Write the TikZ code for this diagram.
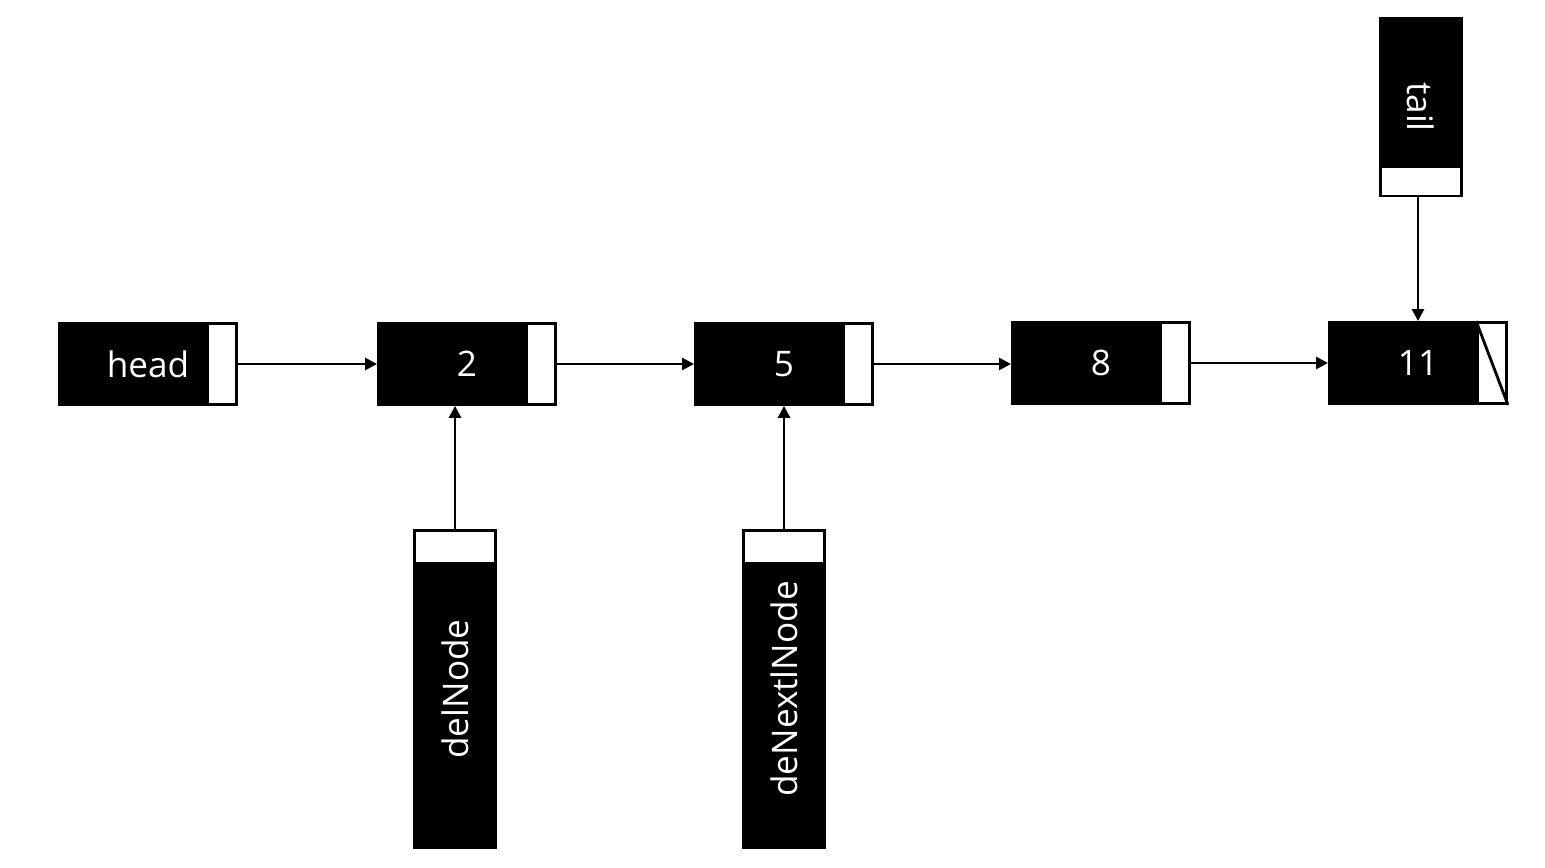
\documentclass[tikz,border=0pt]{standalone}
\usepackage{fontspec}
\setmainfont{Open Sans}
\usetikzlibrary{arrows.meta,positioning,calc}

\begin{document}
\begin{tikzpicture}[x=0.01cm,y=-0.01cm,
  cell/.style={draw=black,fill=black,text=white,line width=0.8pt,
    minimum width=1.77cm,minimum height=0.81cm,inner sep=0pt,
    font=\fontsize{10}{12}\selectfont},
  ptr/.style={draw=black,fill=white,line width=0.8pt,
    minimum width=0.29cm,minimum height=0.81cm,inner sep=0pt},
  vcell/.style={cell,minimum width=0.81cm,minimum height=3.17cm},
  vptr/.style={ptr,minimum width=0.81cm,minimum height=0.33cm},
  link/.style={line width=0.75pt,-{Triangle[length=1.2mm,width=1.2mm]}}]
  \useasboundingbox (0,0) rectangle (1545,868);
  % list nodes
  \node[cell] (head) at (148,364) {head};
  \node[ptr,anchor=east] (headp) at (head.east) {};
  \node[cell] (n2) at (467,364) {2};
  \node[ptr,anchor=east] (n2p) at (n2.east) {};
  \node[cell] (n5) at (784,364) {5};
  \node[ptr,anchor=east] (n5p) at (n5.east) {};
  \node[cell] (n8) at (1101,363) {8};
  \node[ptr,anchor=east] (n8p) at (n8.east) {};
  \node[cell] (n11) at (1418,363) {11};
  \node[ptr,anchor=east] (n11p) at (n11.east) {};
  \draw[line width=0.8pt] (n11p.north west) -- (n11p.south east);
  % pointers
  \node[vcell,minimum height=1.78cm] (tail) at (1421,107) {\rotatebox{-90}{tail}};
  \node[vptr,minimum height=0.29cm,anchor=south] (tailp) at (tail.south) {};
  \node[vcell] (del) at (455,689) {\rotatebox{90}{delNode}};
  \node[vptr,anchor=north] (delp) at (del.north) {};
  \node[vcell] (dnext) at (784,689) {\rotatebox{90}{deNextlNode}};
  \node[vptr,anchor=north] (dnextp) at (dnext.north) {};
  % links
  \draw[link] (headp.east) -- (n2.west);
  \draw[link] (n2p.east) -- (n5.west);
  \draw[link] (n5p.east) -- (n5p.east -| n8.west);
  \draw[link] (n8p.east) -- (n11.west);
  \draw[link] (tailp.south -| n11.north) -- (n11.north);
  \draw[link] (delp.north) -- (delp.north |- n2.south);
  \draw[link] (dnextp.north) -- (n5.south);
\end{tikzpicture}
\end{document}
